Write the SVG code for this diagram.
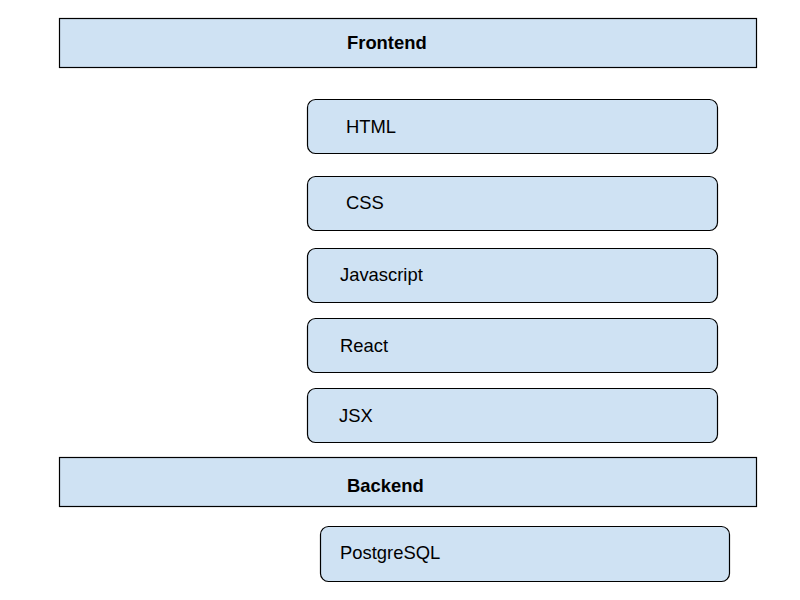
<svg xmlns="http://www.w3.org/2000/svg" width="800" height="600" viewBox="0 0 800 600">
<style>
.band{fill:#cfe2f3;stroke:#000;stroke-width:1.2}
.box{fill:#cfe2f3;stroke:#000;stroke-width:1.2}
.t{font-family:"Liberation Sans",Arial,sans-serif;font-size:18.4px;fill:#000}
.b{font-weight:bold}
</style>
<rect width="800" height="600" fill="#fff"/>
<g id="frontend"><rect class="band" x="59.5" y="18.5" width="697" height="49"/><text class="t b" x="347" y="49">Frontend</text></g>
<g id="html"><rect class="box" x="307.5" y="99.5" width="410" height="54" rx="8"/><text class="t" x="346" y="133">HTML</text></g>
<g id="css"><rect class="box" x="307.5" y="176.5" width="410" height="54" rx="8"/><text class="t" x="346" y="209">CSS</text></g>
<g id="javascript"><rect class="box" x="307.5" y="248.5" width="410" height="54" rx="8"/><text class="t" x="340" y="281">Javascript</text></g>
<g id="react"><rect class="box" x="307.5" y="318.5" width="410" height="54" rx="8"/><text class="t" x="340" y="352">React</text></g>
<g id="jsx"><rect class="box" x="307.5" y="388.5" width="410" height="54" rx="8"/><text class="t" x="339" y="422">JSX</text></g>
<g id="backend"><rect class="band" x="59.5" y="457.5" width="697" height="49"/><text class="t b" x="347" y="492">Backend</text></g>
<g id="postgresql"><rect class="box" x="320.5" y="526.5" width="409" height="55" rx="8"/><text class="t" x="340" y="559">PostgreSQL</text></g>
<g id="connectors"></g>
</svg>
